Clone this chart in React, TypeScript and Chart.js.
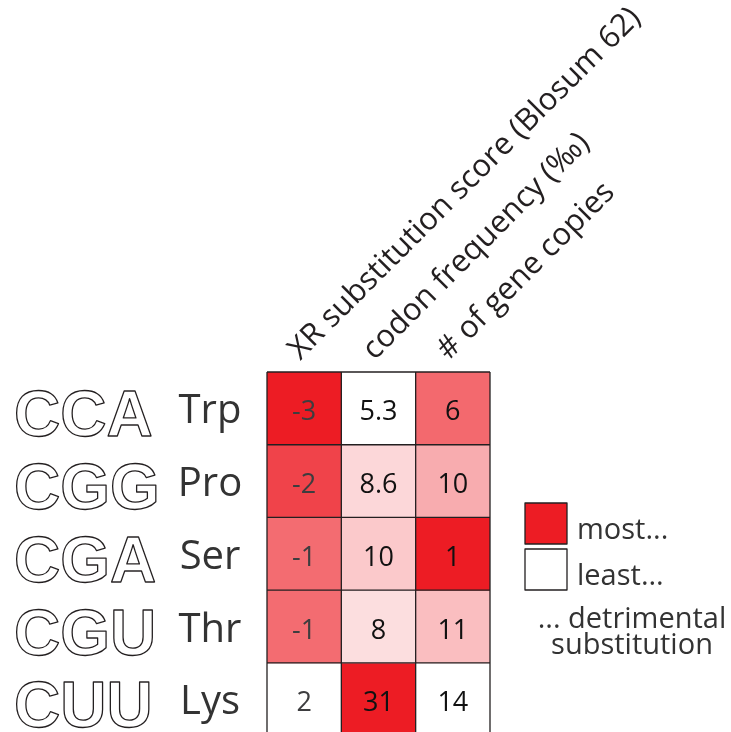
import { useEffect, useRef } from "react";
import { Chart, registerables } from "chart.js";

Chart.register(...registerables);

// ---- data ----
const codons = ["CCA", "CGG", "CGA", "CGU", "CUU"];
const aminoAcids = ["Trp", "Pro", "Ser", "Thr", "Lys"];
const columnTitles = [
  "XR substitution score (Blosum 62)",
  "codon frequency (\u2030)",
  "# of gene copies",
];
const blosumScore = [-3, -2, -1, -1, 2];
const codonFrequency = [5.3, 8.6, 10, 8, 31];
const geneCopies = [6, 10, 1, 11, 14];
// true when a high value means the most detrimental substitution
const highIsMostDetrimental = [false, true, false];
const legendLabels = ["most...", "least..."];
const legendCaption = ["... detrimental", "substitution"];

const columnValues = [blosumScore, codonFrequency, geneCopies];

// ---- styles ----
const RED = [237, 28, 36];
const INK = "#231f20";
const SANS = "'Open Sans', 'Noto Sans', sans-serif";

function shade(t: number) {
  const k = Math.pow(Math.max(0, Math.min(1, t)), 0.85);
  const c = RED.map((v) => Math.round(255 + (v - 255) * k));
  return `rgb(${c[0]},${c[1]},${c[2]})`;
}

function cellColor(col: number, row: number) {
  const vals = columnValues[col];
  const mn = Math.min(...vals);
  const mx = Math.max(...vals);
  let t = (vals[row] - mn) / (mx - mn);
  if (!highIsMostDetrimental[col]) t = 1 - t;
  return shade(t);
}

const heatPlugin = {
  id: "heatDecor",
  afterDatasetsDraw(chart: any) {
    const ctx: CanvasRenderingContext2D = chart.ctx;
    const xs = chart.scales.x;
    const ys = chart.scales.y;
    const area = chart.chartArea;
    ctx.save();

    // cell values
    chart.data.datasets.forEach((_: any, row: number) => {
      const meta = chart.getDatasetMeta(row);
      meta.data.forEach((el: any, col: number) => {
        const p = el.getProps(["x", "y", "base"], true);
        const cy = (p.y + p.base) / 2;
        ctx.font = `27px ${SANS}`;
        ctx.textAlign = "center";
        ctx.textBaseline = "alphabetic";
        ctx.fillStyle = col === 0 ? "#3d3d3f" : "#111111";
        ctx.fillText(String(columnValues[col][row]), p.x, cy + 12);
      });
    });

    // grid lines
    ctx.strokeStyle = INK;
    ctx.lineWidth = 1.3;
    const meta0 = chart.getDatasetMeta(0);
    const bounds: number[] = [];
    meta0.data.forEach((el: any, i: number) => {
      const p = el.getProps(["x", "width"], true);
      if (i === 0) bounds.push(p.x - p.width / 2);
      bounds.push(p.x + p.width / 2);
    });
    const top = ys.getPixelForValue(0);
    const bottom = ys.getPixelForValue(codons.length);
    bounds.forEach((bx) => {
      ctx.beginPath();
      ctx.moveTo(bx, top);
      ctx.lineTo(bx, bottom);
      ctx.stroke();
    });
    for (let r = 0; r <= codons.length; r++) {
      const yy = ys.getPixelForValue(r);
      ctx.beginPath();
      ctx.moveTo(bounds[0], yy);
      ctx.lineTo(bounds[bounds.length - 1], yy);
      ctx.stroke();
    }

    // row labels
    for (let r = 0; r < codons.length; r++) {
      const cy = ys.getPixelForValue(r + 0.5);
      ctx.font = `bold 64px 'Liberation Sans', Arial, sans-serif`;
      ctx.textAlign = "left";
      ctx.lineWidth = 1.3;
      ctx.lineJoin = "round";
      ctx.fillStyle = "#ffffff";
      ctx.strokeStyle = INK;
      ctx.fillText(codons[r], 14, cy + 28);
      ctx.strokeText(codons[r], 14, cy + 28);

      ctx.font = `40px ${SANS}`;
      ctx.textAlign = "center";
      ctx.fillStyle = "#333333";
      ctx.fillText(aminoAcids[r], 210, cy + 15);
    }

    // column titles (rotated)
    columnTitles.forEach((t, i) => {
      const x = xs.getPixelForValue(i) - 4;
      const y = area.top - 11;
      ctx.save();
      ctx.translate(x, y);
      ctx.rotate(-Math.PI / 4);
      ctx.font = `31px ${SANS}`;
      ctx.textAlign = "left";
      ctx.fillStyle = INK;
      ctx.fillText(t, 0, 0);
      ctx.restore();
    });

    // legend
    const boxX = 525;
    const boxW = 42;
    const boxY = [503, 549];
    const fills = [shade(1), shade(0)];
    legendLabels.forEach((lab, i) => {
      ctx.fillStyle = fills[i];
      ctx.fillRect(boxX, boxY[i], boxW, 41);
      ctx.strokeStyle = INK;
      ctx.lineWidth = 1.3;
      ctx.strokeRect(boxX, boxY[i], boxW, 41);
      ctx.font = `29px ${SANS}`;
      ctx.textAlign = "left";
      ctx.fillStyle = "#333333";
      ctx.fillText(lab, 577, boxY[i] + 36);
    });
    ctx.textAlign = "center";
    ctx.fillText(legendCaption[0], 632, 628);
    ctx.fillText(legendCaption[1], 632, 654);

    ctx.restore();
  },
};

export default function App() {
  const ref = useRef<HTMLCanvasElement | null>(null);

  useEffect(() => {
    if (!ref.current) return;
    const datasets = codons.map((c, row) => ({
      label: c,
      data: columnTitles.map(() => 1),
      backgroundColor: columnTitles.map((_, col) => cellColor(col, row)),
      borderWidth: 0,
      barPercentage: 1,
      categoryPercentage: 1,
    }));
    const chart = new Chart(ref.current, {
      type: "bar",
      data: { labels: columnTitles, datasets },
      options: {
        animation: false,
        responsive: true,
        maintainAspectRatio: false,
        layout: { padding: { left: 267, top: 372, right: 241, bottom: 0 } },
        plugins: {
          legend: { display: false },
          tooltip: { enabled: false },
          title: { display: false },
        },
        scales: {
          x: { type: "category", stacked: true, offset: true, display: false },
          y: {
            type: "linear",
            stacked: true,
            reverse: true,
            min: 0,
            max: 4.95,
            display: false,
          },
        },
      },
      plugins: [heatPlugin],
    });
    return () => chart.destroy();
  }, []);

  return (
    <div
      style={{
        position: "fixed",
        left: 0,
        top: 0,
        width: 731,
        height: 732,
        background: "#ffffff",
      }}
    >
      <canvas ref={ref} />
    </div>
  );
}
